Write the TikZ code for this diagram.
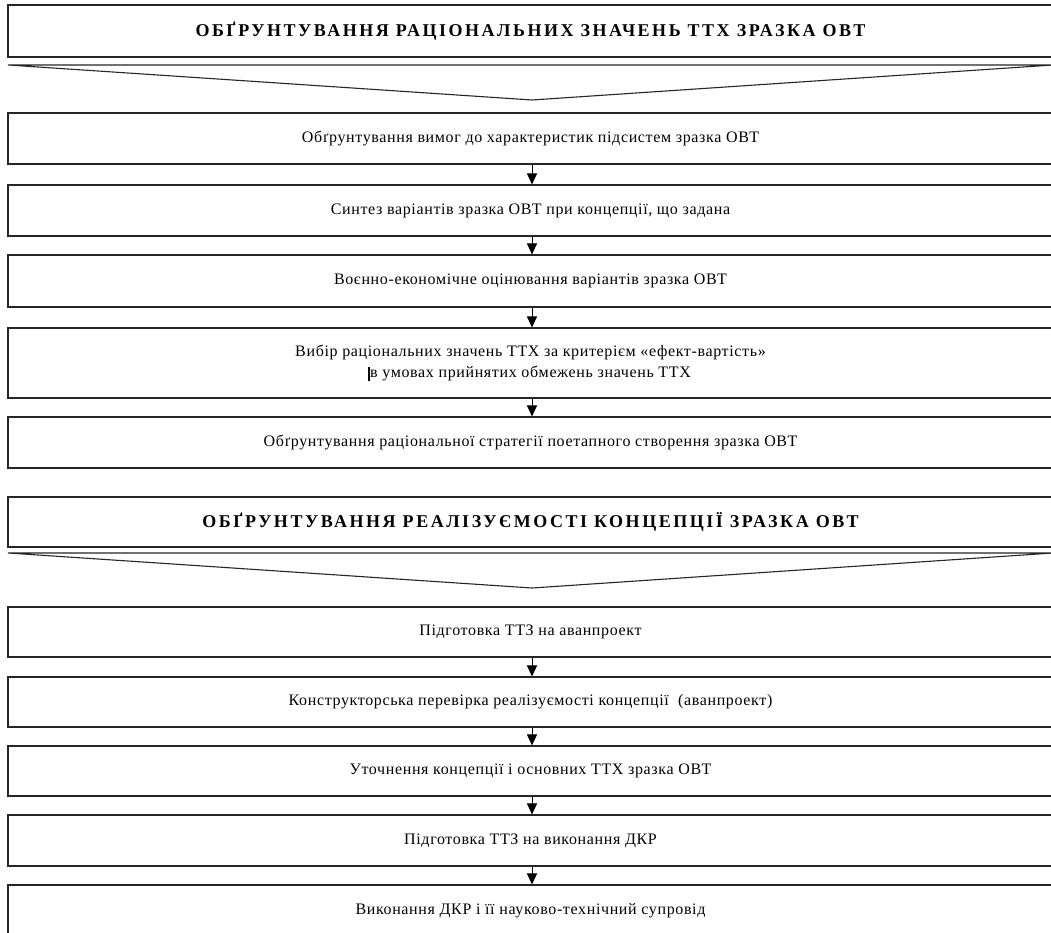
\documentclass[tikz,border=0pt]{standalone}
\usepackage{fontspec}
\setmainfont{Liberation Serif}
\newfontfamily\stagefont[LetterSpace=4]{Liberation Serif}
\newfontfamily\titlefont[LetterSpace=14]{Liberation Serif}
\usetikzlibrary{arrows.meta}
\tikzset{
  stage/.style={draw=black!85, line width=1.1pt, minimum width=1045pt, inner sep=0pt,
                font=\stagefont\fontsize{16}{21}\selectfont, align=center},
  headbox/.style={stage, minimum height=52pt, font=\titlefont\bfseries\fontsize{18}{21}\selectfont},
  flow/.style={draw=black, line width=1pt, -{Triangle[width=10pt,length=11pt]}},
  funnel/.style={draw=black!85, line width=1.1pt, line join=miter}
}
\begin{document}
\begin{tikzpicture}[x=1pt, y=-1pt]
\useasboundingbox (0,0) rectangle (1051,933);
\fill[white] (0,0) rectangle (1051,933);
\clip (0,0) rectangle (1051,933);

% first block
\node[headbox] (h1) at (530.5,31) {ОБҐРУНТУВАННЯ РАЦІОНАЛЬНИХ ЗНАЧЕНЬ ТТХ ЗРАЗКА ОВТ};
\coordinate (f1l) at (8,65);
\coordinate (f1r) at (1053,65);
\coordinate (f1t) at (532,100);
\draw[funnel] (f1l) -- (f1r) -- (f1t) -- cycle;

\node[stage, minimum height=51pt] (a) at (530.5,138.5) {Обґрунтування вимог до характеристик підсистем зразка ОВТ};
\node[stage, minimum height=51pt] (b) at (530.5,210.5) {Синтез варіантів зразка ОВТ при концепції, що задана};
\node[stage, minimum height=52pt] (c) at (530.5,281) {Воєнно-економічне оцінювання варіантів зразка ОВТ};
\node[stage, minimum height=70pt] (d) at (530.5,363) {Вибір раціональних значень ТТХ за критерієм «ефект-вартість»\\
  \llap{\rule[-3pt]{2.5pt}{14pt}}в умовах прийнятих обмежень значень ТТХ};
\node[stage, minimum height=51pt] (e) at (530.5,442.5) {Обґрунтування раціональної стратегії поетапного створення зразка ОВТ};

% second block
\node[headbox, minimum height=50pt] (h2) at (530.5,522) {ОБҐРУНТУВАННЯ РЕАЛІЗУЄМОСТІ КОНЦЕПЦІЇ ЗРАЗКА ОВТ};
\coordinate (f2l) at (8,553);
\coordinate (f2r) at (1053,553);
\coordinate (f2t) at (532,588);
\draw[funnel] (f2l) -- (f2r) -- (f2t) -- cycle;

\node[stage, minimum height=50pt] (f) at (530.5,632) {Підготовка ТТЗ на аванпроект};
\node[stage, minimum height=50pt] (g) at (530.5,702) {Конструкторська перевірка реалізуємості концепції~~(аванпроект)};
\node[stage, minimum height=50pt] (h) at (530.5,771) {Уточнення концепції і основних ТТХ зразка ОВТ};
\node[stage, minimum height=51pt] (i) at (530.5,840.5) {Підготовка ТТЗ на виконання ДКР};
\node[stage, minimum height=51pt] (j) at (530.5,910.5) {Виконання ДКР і її науково-технічний супровід};

% connectors
\foreach \p/\q in {a/b, b/c, c/d, d/e, f/g, g/h, h/i, i/j}
  \draw[flow] ([xshift=1.5pt]\p.south) -- ([xshift=1.5pt]\q.north);
\end{tikzpicture}
\end{document}
